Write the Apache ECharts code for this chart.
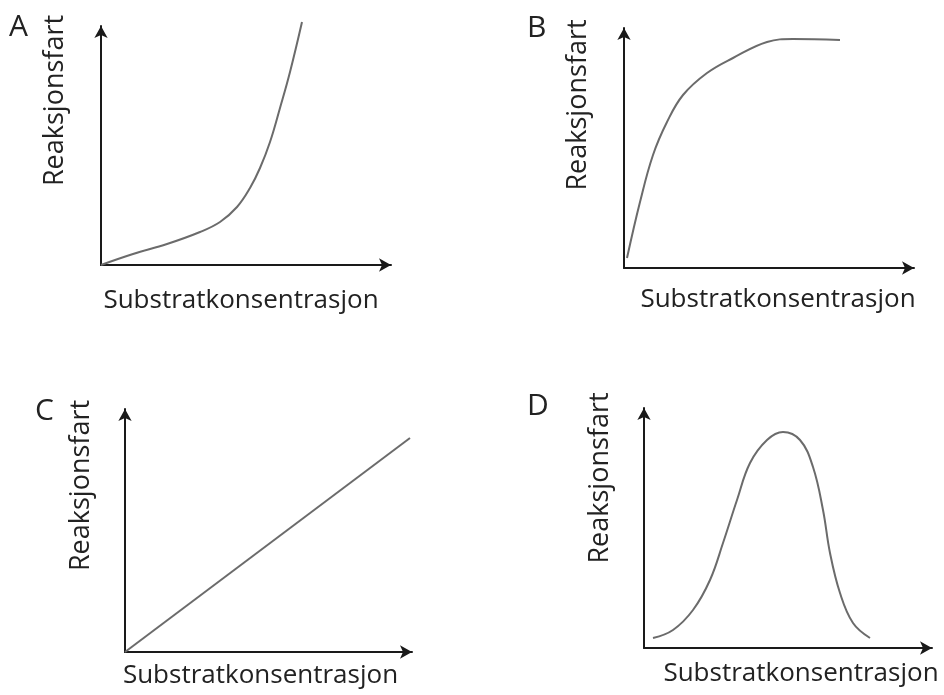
<!DOCTYPE html>
<html>
<head>
<meta charset="utf-8">
<script src="https://cdn.jsdelivr.net/npm/echarts@6/dist/echarts.min.js"></script>
<style>
  html, body { margin: 0; padding: 0; background: #fff; }
  #chart { width: 944px; height: 695px; }
</style>
</head>
<body>
<div id="chart"></div>
<script>
// panel labels and axis titles
const panelLabels = ["A", "B", "C", "D"];
const yName = "Reaksjonsfart";
const xName = "Substratkonsentrasjon";

// curves, [substrat, fart]
const curveA = [[0, 0], [32, 11], [66, 21], [99, 33], [119, 43], [136, 58], [149, 77], [159, 97], [169, 123], [179, 157], [189, 193], [201, 243]];
const curveB = [[3, 10], [16, 66], [29, 113], [43, 146], [59, 173], [83, 195], [109, 210], [143, 226], [169, 229], [216, 228]];
const curveC = [[0, 0], [285, 214]];
const curveD = [[9, 10], [29, 18], [49, 38], [66, 68], [79, 105], [93, 148], [106, 185], [123, 208], [139, 216], [156, 208], [169, 181], [179, 138], [186, 95], [196, 55], [209, 25], [226, 10]];

// axis extents for each panel
const xMax = [290, 290, 287, 288];
const yMax = [239, 240, 243, 240];

const curves = [curveA, curveB, curveC, curveD];
const smoothing = [0.4, 0.4, 0, 0.4];

// grid boxes (origin + axis ends)
const grids = [
    { left: 101, top: 26, width: 290, height: 239 },
    { left: 624, top: 28, width: 290, height: 240 },
    { left: 125, top: 409, width: 287, height: 243 },
    { left: 644, top: 408, width: 288, height: 240 }
];
const yPad = [90, 86, 90, 100];
const xPad = [[0, 10, 0, 0], [0, 0, 0, 18], [0, 16, 0, 0], [0, 0, 0, 26]];
const xGap = [23, 19, 11, 13];
const yGap = [32, 32, 30, 30];
const labelPos = [[9, 12], [527, 13], [35, 396], [527, 391]];

const font = "'Open Sans', sans-serif";
const axisColor = "#1a1a1a";

const axisLine = {
    show: true,
    symbol: ["none", "arrow"],
    symbolSize: [10, 12],
    lineStyle: { color: axisColor, width: 2 }
};

const contenedor = document.getElementById("chart");
const grafico = echarts.init(contenedor, null, { renderer: "canvas" });

const opciones = {
    backgroundColor: "#fff",
    animation: false,
    title: panelLabels.map((t, i) => ({
        text: t,
        left: labelPos[i][0],
        top: labelPos[i][1],
        padding: 0,
        textStyle: { fontFamily: font, fontSize: 30, fontWeight: "normal", color: "#222" }
    })),
    grid: grids,
    xAxis: grids.map((g, i) => ({
        type: "value",
        gridIndex: i,
        min: 0,
        max: xMax[i],
        name: xName,
        nameLocation: "middle",
        nameGap: xGap[i],
        nameTextStyle: { fontFamily: font, fontSize: 26, color: "#222", padding: xPad[i] },
        axisLine: axisLine,
        axisTick: { show: false },
        axisLabel: { show: false },
        splitLine: { show: false }
    })),
    yAxis: grids.map((g, i) => ({
        type: "value",
        gridIndex: i,
        min: 0,
        max: yMax[i],
        name: yName,
        nameLocation: "middle",
        nameRotate: 90,
        nameGap: yGap[i],
        nameTextStyle: { fontFamily: font, fontSize: 27, color: "#222", padding: [0, 0, 0, yPad[i]] },
        axisLine: axisLine,
        axisTick: { show: false },
        axisLabel: { show: false },
        splitLine: { show: false }
    })),
    series: curves.map((c, i) => ({
        type: "line",
        xAxisIndex: i,
        yAxisIndex: i,
        data: c,
        smooth: smoothing[i],
        showSymbol: false,
        clip: false,
        lineStyle: { color: "#6b6b6b", width: 2 }
    }))
};

grafico.setOption(opciones);
</script>
</body>
</html>
